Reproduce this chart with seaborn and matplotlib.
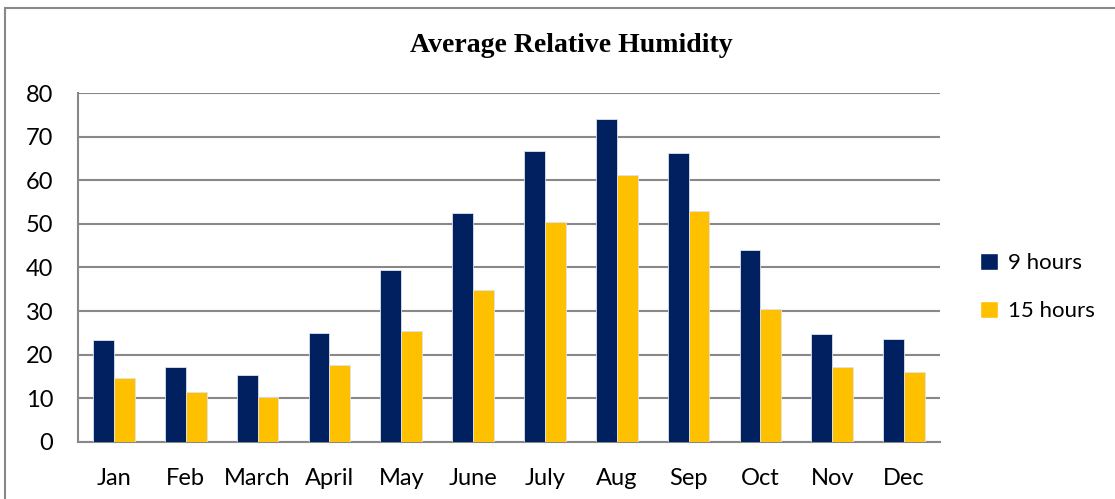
import pandas as pd
import seaborn as sns
import matplotlib.pyplot as plt
from matplotlib.patches import Rectangle, Patch

months = ['Jan', 'Feb', 'March', 'April', 'May', 'June',
          'July', 'Aug', 'Sep', 'Oct', 'Nov', 'Dec']
hum_9 = [23.4, 17.2, 15.4, 25.0, 39.4, 52.6, 66.8, 74.1, 66.2, 44.0, 24.7, 23.5]
hum_15 = [14.7, 11.3, 10.3, 17.7, 25.3, 34.8, 50.5, 61.3, 53.0, 30.4, 17.2, 15.9]
series = ['9 hours', '15 hours']
colors = ['#002060', '#FFC000']

df = pd.DataFrame({
    'Month': months * 2,
    'Series': [series[0]] * 12 + [series[1]] * 12,
    'Humidity': hum_9 + hum_15,
})

sns.set_style('white')
plt.rcParams['font.family'] = ['Lato', 'DejaVu Sans']
plt.rcParams['text.color'] = 'black'

fig = plt.figure(figsize=(11.15, 4.99), dpi=100)
ax = fig.add_axes([0.070, 0.115, 0.773, 0.698])

sns.barplot(data=df, x='Month', y='Humidity', hue='Series',
            palette=colors, saturation=1, width=0.58,
            edgecolor='#dde3ee', linewidth=0.6,
            ax=ax, legend=False, zorder=3)

ax.set_ylim(0, 80)
ax.set_xlim(-0.5, 11.5)
ax.set_yticks(range(0, 81, 10))
ax.yaxis.grid(True, color='#888888', linewidth=1.5, zorder=0)
ax.set_axisbelow(True)
ax.set_xlabel('')
ax.set_ylabel('')
ax.tick_params(axis='both', length=0, labelsize=17, colors='black')
ax.tick_params(axis='x', pad=19)
ax.tick_params(axis='y', pad=18)
for side in ['top', 'right']:
    ax.spines[side].set_visible(False)
for side in ['left', 'bottom']:
    ax.spines[side].set_color('#888888')
    ax.spines[side].set_linewidth(1.5)

fig.text(0.512, 0.909, 'Average Relative Humidity', ha='center', va='center',
         fontsize=20, fontweight='bold', family='Liberation Serif', color='black')

handles = [Patch(facecolor=c, label=s) for c, s in zip(colors, series)]
fig.legend(handles=handles, loc='center left', bbox_to_anchor=(0.861, 0.425),
           frameon=False, fontsize=16, handlelength=0.8, handleheight=0.8,
           handletextpad=0.45, labelspacing=1.25)

fig.patches.append(Rectangle((4.5 / 1115, -0.1), 1.2, 1.1 - 8 / 499,
                             transform=fig.transFigure, fill=False,
                             edgecolor='#888888', linewidth=1.5))

fig.savefig('out.png', dpi=100)
